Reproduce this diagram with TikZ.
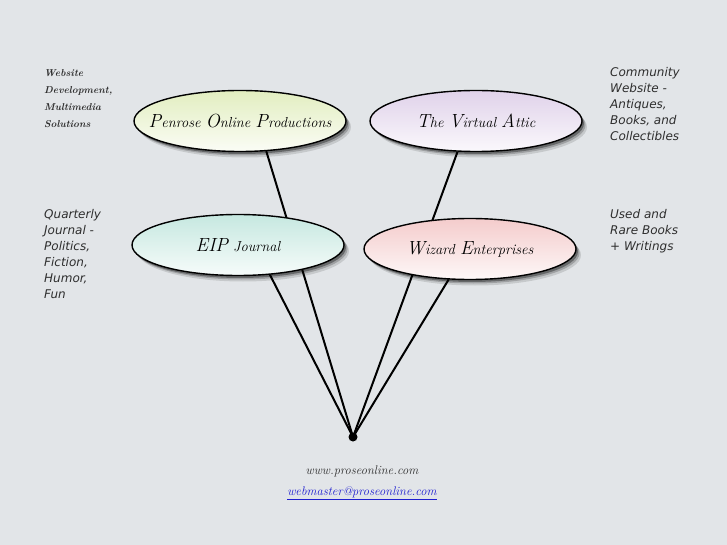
\documentclass[tikz,border=0pt]{standalone}
\usepackage{fontspec}
\newfontfamily\blurbfont{DejaVu Sans}
\usetikzlibrary{shapes.geometric,shadows,positioning}
\definecolor{pagebg}{HTML}{E2E5E8}
\definecolor{popgreen}{HTML}{E2EEC0}
\definecolor{attlav}{HTML}{E0D2EA}
\definecolor{eipcyan}{HTML}{C6E8E0}
\definecolor{wizpink}{HTML}{F4CCCC}
\definecolor{blurbgray}{HTML}{2E2E2E}
\definecolor{maillink}{HTML}{1E1ED0}
\pgfdeclarelayer{back}
\pgfdeclarelayer{wires}
\pgfsetlayers{back,wires,main}
\newcommand{\capinit}[1]{{\fontsize{19}{19}\selectfont #1}}

\begin{document}
\begin{tikzpicture}[x=1pt, y=-1pt,
  venture/.style={ellipse, draw=black, line width=1.4pt, minimum width=212pt,
               minimum height=61pt, inner xsep=-24pt, inner ysep=0pt,
               font=\fontsize{14.5}{16}\selectfont\itshape,
               general shadow={shadow xshift=5pt, shadow yshift=-6pt, fill=black, opacity=0.12},
               general shadow={shadow xshift=3.5pt, shadow yshift=-4pt, fill=black, opacity=0.2},
               general shadow={shadow xshift=2pt, shadow yshift=-2.5pt, fill=black, opacity=0.35}},
  blurb/.style={anchor=north west, inner sep=0pt, align=left, text=blurbgray,
               font=\blurbfont\itshape\fontsize{12}{16}\selectfont},
  spoke/.style={line width=2pt, black}
]
\useasboundingbox (0,0) rectangle (727,545);
\begin{pgfonlayer}{back}
  \fill[pagebg] (0,0) rectangle (727,545);
\end{pgfonlayer}

% the four ventures
\node[venture, top color=popgreen, bottom color=popgreen!15!white] (pop) at (240,121)
  {\capinit{P}enrose \capinit{O}nline \capinit{P}roductions};
\node[venture, top color=attlav, bottom color=attlav!15!white] (attic) at (476,121)
  {\capinit{T}he \capinit{V}irtual \capinit{A}ttic};
\node[venture, top color=eipcyan, bottom color=eipcyan!15!white] (eip) at (238,245)
  {\capinit{EIP} Journal};
\node[venture, top color=wizpink, bottom color=wizpink!15!white] (wizard) at (470,249)
  {\capinit{W}izard \capinit{E}nterprises};
\node[circle, fill=black, minimum size=9pt, inner sep=0pt] (hub) at (353,437) {};

\begin{pgfonlayer}{wires}
  \draw[spoke] (hub.center) -- (pop.-49);
  \draw[spoke] (hub.center) -- (attic.-121);
  \draw[spoke] (hub.center) -- (eip.-43);
  \draw[spoke] (hub.center) -- (wizard.-125);
\end{pgfonlayer}

% blurbs
\node[blurb, font=\bfseries\itshape\fontsize{10}{17}\selectfont] (webdev) at (44,69)
  {Website\\Development,\\Multimedia\\Solutions};
\node[blurb] (quarterly) at (44,209)
  {Quarterly\\Journal -\\Politics,\\Fiction,\\Humor,\\Fun};
\node[blurb] (community) at (610,67)
  {Community\\Website -\\Antiques,\\Books, and\\Collectibles};
\node[blurb] (usedbooks) at (610,209)
  {Used and\\Rare Books\\+ Writings};

% footer
\node[font=\fontsize{12.5}{14}\selectfont\itshape, text=blurbgray] (site) at (362,471)
  {www.proseonline.com};
\node[font=\fontsize{12.5}{14}\selectfont\itshape, text=maillink, below=3pt of site] (mail)
  {\underline{webmaster@proseonline.com}};
\end{tikzpicture}
\end{document}
